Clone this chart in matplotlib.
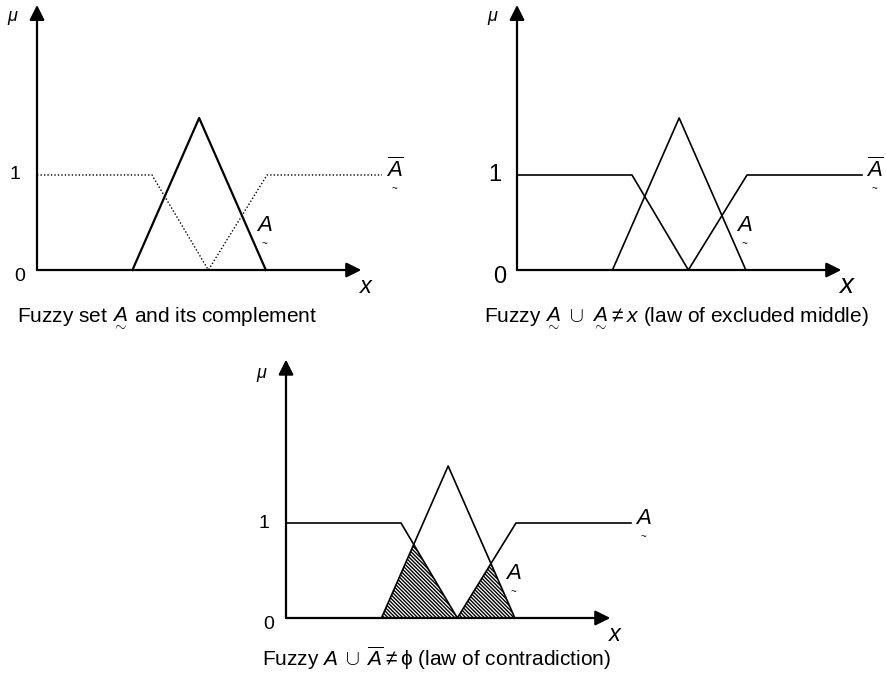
import numpy as np
import matplotlib
matplotlib.use('Agg')
import matplotlib.pyplot as plt

plt.rcParams['font.family'] = ['Liberation Sans', 'DejaVu Sans']
plt.rcParams['mathtext.fontset'] = 'custom'
plt.rcParams['mathtext.rm'] = 'Liberation Sans'
plt.rcParams['mathtext.it'] = 'Liberation Sans:italic'
plt.rcParams['mathtext.sf'] = 'Liberation Sans'
plt.rcParams['hatch.linewidth'] = 1.0

# membership functions (x in arbitrary units, mu in membership units)
tri_x = [8.3, 14.1, 19.9]
tri_y = [0, 1.6, 0]
comp_x = [0, 10, 14.9, 20, 30]
comp_y = [1, 1, 0, 1, 1]
x_end = 28.2                 # tip of x arrow
mu_end = [2.79, 2.79, 2.72]  # tip of mu arrow per panel
mu_lab = [2.65, 2.65, 2.56]

captions = [r'Fuzzy set $\underset{\sim}{A}$ and its complement',
            r'Fuzzy $\underset{\sim}{A}\;\cup\;\underset{\sim}{A}\neq x$ (law of excluded middle)',
            r'Fuzzy $A\;\cup\;\overline{A}\neq\mathrm{\phi}$ (law of contradiction)']

W, H = 887, 674
fig = plt.figure(figsize=(W / 100, H / 100), dpi=100)

# origin of each panel in pixels (from top-left)
origins = [(37, 270), (517, 270), (286, 618)]
xu, yu = 11.5, 95.0   # pixels per unit
ytop = 2.8

def make_ax(ox, oy):
    ax = fig.add_axes([ox / W, (H - oy) / H, 30 * xu / W, ytop * yu / H])
    ax.set_xlim(0, 30)
    ax.set_ylim(0, ytop)
    ax.axis('off')
    return ax

def arrows(ax, top):
    style = '-|>,head_length=0.9,head_width=0.45'
    ax.annotate('', xy=(x_end, 0), xytext=(0, 0),
                arrowprops=dict(arrowstyle=style, lw=1.6, color='k', shrinkA=0, shrinkB=0))
    ax.annotate('', xy=(0, top), xytext=(0, 0),
                arrowprops=dict(arrowstyle=style, lw=1.6, color='k', shrinkA=0, shrinkB=0))

def tilde_label(ax, x, y, s, size=16):
    ax.text(x, y, s, fontsize=size, style='italic', ha='center', va='center', clip_on=False)
    ax.text(x, y - 0.2, '~', fontsize=7, ha='center', va='center', clip_on=False)

def ticks(ax, size, xsize, mu_y):
    ax.text(-1.9, 1, '1', fontsize=size, ha='center', va='center', clip_on=False)
    ax.text(-1.5, -0.07, '0', fontsize=size, ha='center', va='center', clip_on=False)
    ax.text(-2.1, mu_y, r'$\mu$', fontsize=13, ha='center', va='center', clip_on=False)
    ax.text(28.6, -0.17, 'x', fontsize=xsize, style='italic', ha='center', va='center', clip_on=False)

axes = [make_ax(*o) for o in origins]

# panel 1: fuzzy set and its complement (dotted)
ax = axes[0]
arrows(ax, mu_end[0])
ax.plot(tri_x, tri_y, color='k', lw=1.6, clip_on=False)
ax.plot(comp_x, comp_y, color='k', lw=1.0, ls=(0, (1, 1.5)), clip_on=False)
ticks(ax, 14, 17, mu_lab[0])
tilde_label(ax, 31.1, 1.05, r'$\overline{A}$')
tilde_label(ax, 19.8, 0.47, 'A')

# panel 2: excluded middle
ax = axes[1]
arrows(ax, mu_end[1])
ax.plot(tri_x, tri_y, color='k', lw=1.2, clip_on=False)
ax.plot(comp_x, comp_y, color='k', lw=1.2, clip_on=False)
ticks(ax, 17, 20, mu_lab[1])
tilde_label(ax, 31.1, 1.05, r'$\overline{A}$')
tilde_label(ax, 19.8, 0.47, 'A')

# panel 3: contradiction, hatched intersection
ax = axes[2]
arrows(ax, mu_end[2])
xx = np.linspace(tri_x[0], tri_x[-1], 400)
inter = np.minimum(np.interp(xx, tri_x, tri_y), np.interp(xx, comp_x, comp_y))
ax.fill_between(xx, 0, inter, facecolor='white', edgecolor='k', hatch='\\' * 9, lw=0)
ax.plot(tri_x, tri_y, color='k', lw=1.2, clip_on=False)
ax.plot(comp_x, comp_y, color='k', lw=1.2, clip_on=False)
ticks(ax, 14, 17, mu_lab[2])
tilde_label(ax, 31.1, 1.05, 'A')
tilde_label(ax, 19.8, 0.47, 'A')

# captions
fig.text(167 / W, 1 - 318 / H, captions[0], fontsize=15, ha='center', va='center')
fig.text(676 / W, 1 - 318 / H, captions[1], fontsize=15, ha='center', va='center')
fig.text(436 / W, 1 - 658 / H, captions[2], fontsize=15, ha='center', va='center')

plt.savefig('out.png', dpi=100)
